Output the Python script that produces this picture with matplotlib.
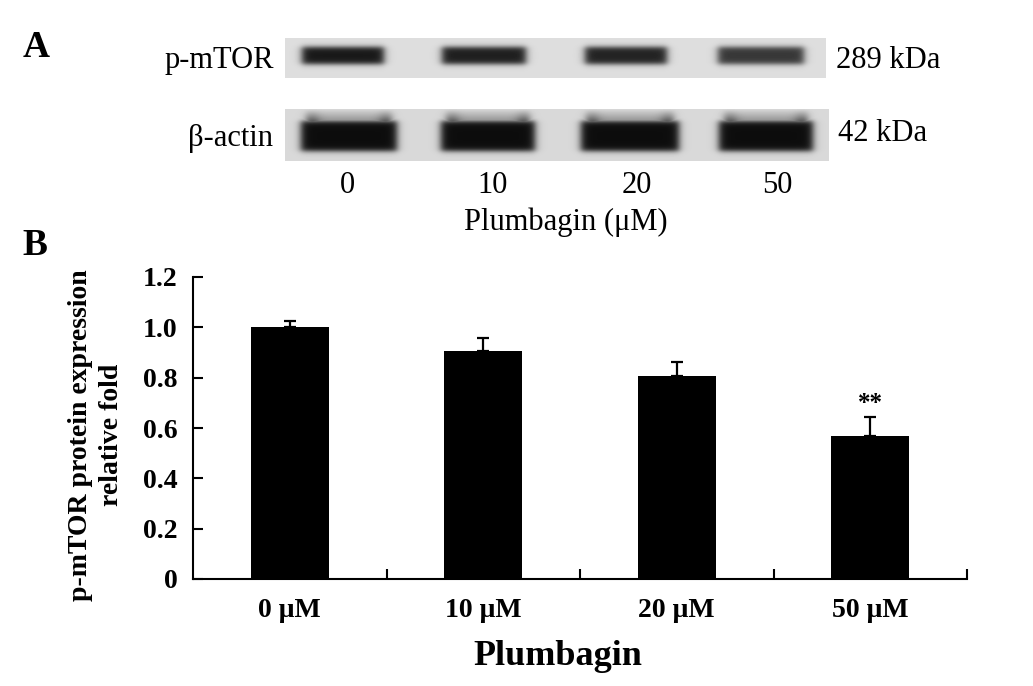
import numpy as np
import matplotlib
matplotlib.use("Agg")
import matplotlib.pyplot as plt

plt.rcParams["font.family"] = ["Liberation Serif", "DejaVu Serif"]

# panel B data
groups = ["0 μM", "10 μM", "20 μM", "50 μM"]
fold = [1.0, 0.907, 0.805, 0.57]
fold_err = [0.025, 0.05, 0.057, 0.072]
signif = ["", "", "", "**"]
y_ticks = [0, 0.2, 0.4, 0.6, 0.8, 1.0, 1.2]
y_ticklabels = ["0", "0.2", "0.4", "0.6", "0.8", "1.0", "1.2"]

# panel A (blot) data
doses = ["0", "10", "20", "50"]
mtor_band = [0.95, 0.92, 0.90, 0.80]
actin_band = [1.0, 1.0, 1.0, 1.0]

W, H = 1033, 686
fig = plt.figure(figsize=(W / 100, H / 100), dpi=100)

# overlay in pixel coordinates for the blot and free text
ov = fig.add_axes([0, 0, 1, 1])
ov.set_axis_off()


def soft_box(v, lo, hi, s):
    return 0.5 * (np.tanh((v - lo) / s) - np.tanh((v - hi) / s))


def strip_image(x0, x1, y0, y1, centers, widths, top, bot, levels, bg, smear=0):
    """Grey blot strip with soft dark bands."""
    xs = np.arange(x0, x1) + 0.5
    ys = np.arange(y0, y1) + 0.5
    X, Y = np.meshgrid(xs, ys)
    dark = np.zeros(X.shape)
    for c, w, lv in zip(centers, widths, levels):
        ex = soft_box(X, c - w / 2, c + w / 2, 4.5)
        d = ex * soft_box(Y, top, bot, 3.0) * lv
        if smear:
            # lighter smear above the band, a bit darker at both sides
            ramp = np.clip((Y - (top - smear)) / smear, 0, 1)
            side = np.clip(np.exp(-((X - (c - w / 2 + 10)) / 9) ** 2)
                           + np.exp(-((X - (c + w / 2 - 10)) / 9) ** 2), 0, 1)
            ex2 = soft_box(X, c - w / 2 + 4, c + w / 2 - 4, 5)
            d = np.maximum(d, ex2 * ramp * (Y < top + 2) * (0.35 + 0.3 * side) * lv)
        dark = np.maximum(dark, d)
    img = bg * (1 - dark) + 0.05 * dark
    ov.imshow(img, cmap="gray", vmin=0, vmax=1, extent=(x0, x1, y1, y0),
              aspect="auto", interpolation="bilinear", zorder=1)


strip_image(285, 826, 38, 78, [343, 484, 626, 761], [82, 84, 82, 86], 47, 64,
            mtor_band, 0.87)
strip_image(285, 829, 109, 161, [349, 488, 630, 766], [96, 94, 98, 94], 121, 151,
            actin_band, 0.85, smear=12)

ov.set_xlim(0, W)
ov.set_ylim(H, 0)

ov.text(36, 57, "A", fontsize=27, fontweight="bold", ha="center", va="baseline")
ov.text(274, 68, "p-mTOR", fontsize=22, ha="right", va="baseline")
ov.text(273, 146, "β-actin", fontsize=22, ha="right", va="baseline")
ov.text(836, 68, "289 kDa", fontsize=22, ha="left", va="baseline")
ov.text(838, 141, "42 kDa", fontsize=22, ha="left", va="baseline")
for x, d in zip([347, 493, 637, 777], doses):
    ov.text(x, 193, d, fontsize=22, ha="center", va="baseline")
ov.text(566, 230, "Plumbagin (μM)", fontsize=22, ha="center", va="baseline")
ov.text(35, 255, "B", fontsize=27, fontweight="bold", ha="center", va="baseline")

# panel B bar chart
left, right, bottom, top = 193, 967, 579, 277
ax = fig.add_axes([left / W, 1 - bottom / H, (right - left) / W, (bottom - top) / H])
xpos = np.arange(len(groups)) + 0.5
ax.bar(xpos, fold, width=0.405, color="black", zorder=2)
ax.errorbar(xpos, fold, yerr=[np.zeros(len(fold)), fold_err], fmt="none",
            ecolor="black", elinewidth=1.6, capsize=4.5, capthick=1.6, zorder=1)
for x, v, e, s in zip(xpos, fold, fold_err, signif):
    if s:
        ax.text(x, v + e + 0.008, s, fontsize=18, fontweight="bold",
                ha="center", va="bottom")

ax.set_xlim(0, 4)
ax.set_ylim(0, 1.2)
for side in ["top", "right"]:
    ax.spines[side].set_visible(False)
for side in ["left", "bottom"]:
    ax.spines[side].set_linewidth(1.5)

ax.set_yticks(y_ticks)
ax.set_yticklabels(y_ticklabels, fontsize=20, fontweight="bold")
ax.set_xticks([1, 2, 3, 4])
ax.set_xticklabels([])
ax.set_xticks(xpos, minor=True)
ax.set_xticklabels(groups, minor=True, fontsize=20, fontweight="bold")
ax.tick_params(axis="both", which="major", direction="in", length=7, width=1.5)
ax.tick_params(axis="y", which="major", pad=11)
ax.tick_params(axis="x", which="minor", length=0, pad=14)

ov.text(96, 435, "p-mTOR protein expression\nrelative fold", fontsize=20,
        fontweight="bold", rotation=90, ha="center", va="center",
        multialignment="center", linespacing=1.35)
ov.text(558, 665, "Plumbagin", fontsize=26, fontweight="bold",
        ha="center", va="baseline")

fig.savefig("out.png", dpi=100)
